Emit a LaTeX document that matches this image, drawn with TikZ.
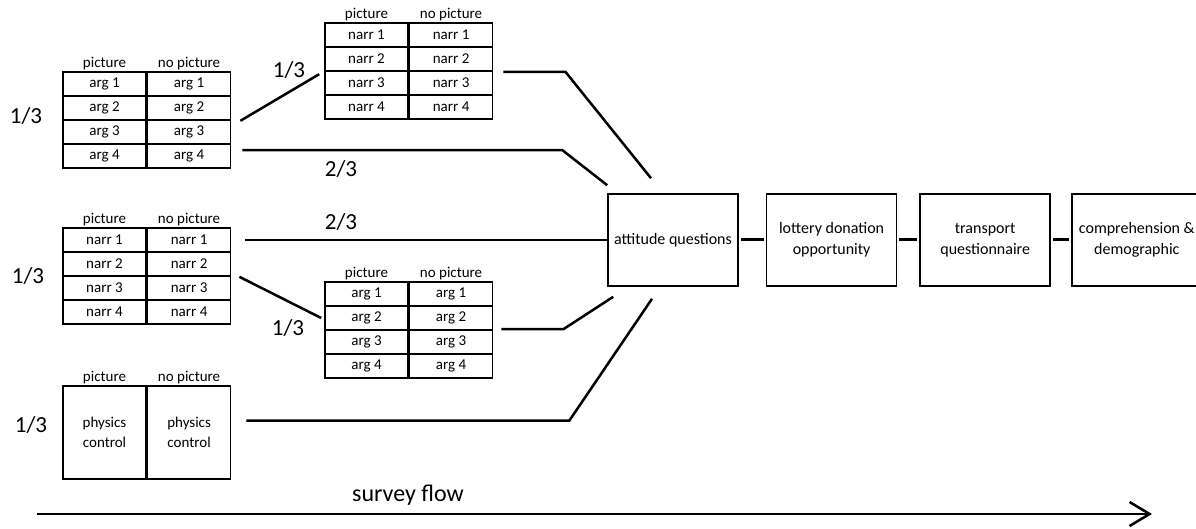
\documentclass[tikz,border=0pt]{standalone}
\usepackage{fontspec}
\setmainfont{Carlito}
\usetikzlibrary{positioning, arrows.meta}
\tikzset{
    cell/.style={rectangle, draw=black, line width=1.6pt, minimum width=83pt, minimum height=24pt, inner sep=0pt, font=\fontsize{15}{17}\selectfont},
    bigcell/.style={cell, minimum height=93pt, align=center, font=\fontsize{15}{20}\selectfont},
    head/.style={inner sep=1pt, font=\fontsize{15}{17}\selectfont},
    frac/.style={font=\fontsize{23}{26}\selectfont},
    flowlbl/.style={font=\fontsize{24}{28}\selectfont},
    stepbox/.style={rectangle, draw=black, line width=1.6pt, minimum width=130pt, minimum height=92pt, align=center, font=\fontsize{16}{21}\selectfont},
    link/.style={line width=2.5pt},
    joint/.style={line width=3pt, shorten <=2pt, shorten >=2pt},
    flowarr/.style={-{Straight Barb[length=20pt, width=24pt]}, line width=2.5pt}
}
\begin{document}
\begin{tikzpicture}[x=1pt, y=-1pt]
            \useasboundingbox (0,0) rectangle (1196,529);
            \clip (0,0) rectangle (1196,529);

            % Argument table, top left
            \foreach \i in {1,...,4} {
                \node[cell] (a1-\i-l) at (104.5, {60+24*\i}) {arg \i};
                \node[cell, right=0pt of a1-\i-l] (a1-\i-r) {arg \i};
            }
            \node[head, above=0pt of a1-1-l] (a1-hl) {picture};
            \node[head, above=0pt of a1-1-r] (a1-hr) {no picture};

            % Narrative table, top middle
            \foreach \i in {1,...,4} {
                \node[cell] (b1-\i-l) at (366.5, {11+24*\i}) {narr \i};
                \node[cell, right=0pt of b1-\i-l] (b1-\i-r) {narr \i};
            }
            \node[head, above=0pt of b1-1-l] (b1-hl) {picture};
            \node[head, above=0pt of b1-1-r] (b1-hr) {no picture};

            % Narrative table, middle left
            \foreach \i in {1,...,4} {
                \node[cell] (a2-\i-l) at (104.5, {216+24*\i}) {narr \i};
                \node[cell, right=0pt of a2-\i-l] (a2-\i-r) {narr \i};
            }
            \node[head, above=0pt of a2-1-l] (a2-hl) {picture};
            \node[head, above=0pt of a2-1-r] (a2-hr) {no picture};

            % Argument table, lower middle
            \foreach \i in {1,...,4} {
                \node[cell] (b2-\i-l) at (366.5, {270+24*\i}) {arg \i};
                \node[cell, right=0pt of b2-\i-l] (b2-\i-r) {arg \i};
            }
            \node[head, above=0pt of b2-1-l] (b2-hl) {picture};
            \node[head, above=0pt of b2-1-r] (b2-hr) {no picture};

            % Control table
            \node[bigcell] (pc-l) at (104.5, 432.5) {physics\\control};
            \node[bigcell, right=0pt of pc-l] (pc-r) {physics\\control};
            \node[head, above=0pt of pc-l] (pc-hl) {picture};
            \node[head, above=0pt of pc-r] (pc-hr) {no picture};

            % Survey steps
            \node[stepbox] (att) at (673,240) {attitude questions};
            \node[stepbox, right=27pt of att] (lot) {lottery donation\\opportunity};
            \node[stepbox, right=22pt of lot] (trn) {transport\\questionnaire};
            \node[stepbox, right=20pt of trn] (cmp) {comprehension \&\\demographic};
            \draw[joint] (att) -- (lot);
            \draw[joint] (lot) -- (trn);
            \draw[joint] (trn) -- (cmp);

            % Branches
            \draw[link] ([xshift=9pt]a1-2-r.south east) -- ([shift={(-5,4)}]b1-3-l.north west);
            \draw[link] ([xshift=10pt]b1-2-r.south east) -- ++(62,0) -- ([shift={(-22,-15)}]att.north);
            \draw[link] ([shift={(11,7)}]a1-4-r.north east) -- ++(320,0) -- ([shift={(0,-8)}]att.north west);
            \draw[link] ([xshift=14pt]a2-1-r.east) -- (att.west);
            \draw[link] ([xshift=8pt]a2-2-r.south east) -- ([xshift=-3pt]b2-2-l.west);
            \draw[link] ([xshift=8pt]b2-3-r.north east) -- ++(62,0) -- ([shift={(6,10)}]att.south west);
            \draw[link] ([shift={(15,-12)}]pc-r.east) -- ++(323,0) -- ([shift={(-21,12)}]att.south);

            % Shares
            \node[frac] (fa1) at (26,116) {1/3};
            \node[frac] (fa2) at (28,276) {1/3};
            \node[frac] (fpc) at (31,425) {1/3};
            \node[frac] (fb1) at (289,70) {1/3};
            \node[frac] (fb2) at (288,328) {1/3};
            \node[frac] (fd1) at (341,169) {2/3};
            \node[frac] (fd2) at (341,222) {2/3};

            % Survey flow
            \coordinate (flow-start) at (37,514);
            \coordinate (flow-end) at (1152,514);
            \draw[flowarr] (flow-start) -- (flow-end);
            \node[flowlbl] (flow-lbl) at (408,495) {survey flow};
        \end{tikzpicture}
\end{document}
